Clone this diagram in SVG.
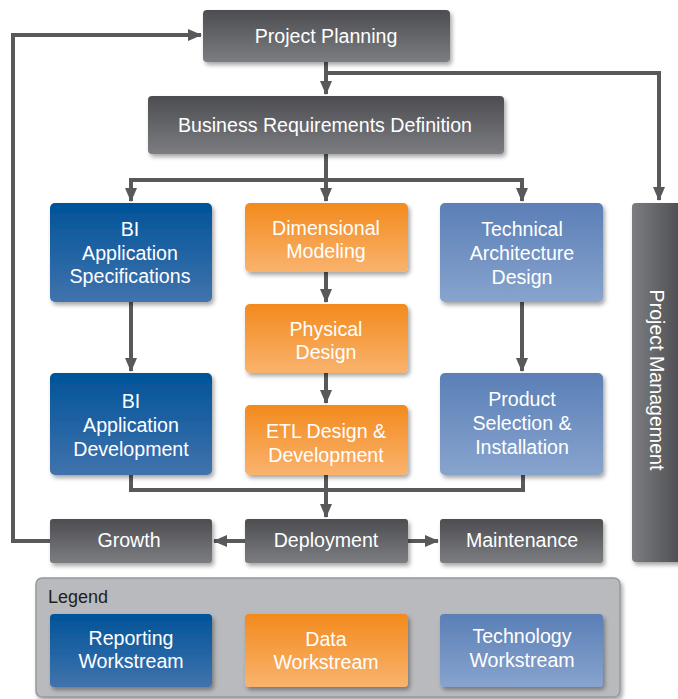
<svg xmlns="http://www.w3.org/2000/svg" width="678" height="699" viewBox="0 0 678 699">
<defs>
<linearGradient id="gGray" x1="0" y1="0" x2="0" y2="1"><stop offset="0" stop-color="#4c4d51"/><stop offset="1" stop-color="#7c7d81"/></linearGradient>
<linearGradient id="gGrayH" x1="0" y1="0" x2="1" y2="0"><stop offset="0" stop-color="#7c7d81"/><stop offset="1" stop-color="#4c4d51"/></linearGradient>
<linearGradient id="gBlue" x1="0" y1="0" x2="0" y2="1"><stop offset="0" stop-color="#005399"/><stop offset="1" stop-color="#4173ad"/></linearGradient>
<linearGradient id="gOrange" x1="0" y1="0" x2="0" y2="1"><stop offset="0" stop-color="#f38a1d"/><stop offset="1" stop-color="#f9b36e"/></linearGradient>
<linearGradient id="gLight" x1="0" y1="0" x2="0" y2="1"><stop offset="0" stop-color="#5a7fb6"/><stop offset="1" stop-color="#88a4ce"/></linearGradient>
<filter id="sh" x="-10%" y="-10%" width="130%" height="140%"><feDropShadow dx="2" dy="3" stdDeviation="2" flood-color="#000" flood-opacity="0.35"/></filter>
<marker id="ah" viewBox="0 0 14 12" refX="13" refY="6" markerWidth="14" markerHeight="12" markerUnits="userSpaceOnUse" orient="auto"><path d="M0,0 L14,6 L0,12 Z" fill="#58595b"/></marker>
<style>
.t{font-family:"Liberation Sans",Arial,sans-serif;font-size:19.6px;fill:#ffffff;text-anchor:middle}
.c{fill:none;stroke:#58595b;stroke-width:4}
.gray{fill:url(#gGray);filter:url(#sh)}
.blue{fill:url(#gBlue);filter:url(#sh)}
.orange{fill:url(#gOrange);filter:url(#sh)}
.light{fill:url(#gLight);filter:url(#sh)}
</style>
</defs>
<rect width="678" height="699" fill="#ffffff"/>

<g id="connectors">
<path class="c" d="M326,62 V94" marker-end="url(#ah)"/>
<path class="c" d="M326,73 H659 V200" marker-end="url(#ah)"/>
<path class="c" d="M326,154 V201" marker-end="url(#ah)"/>
<path class="c" d="M131,201 V180 H522 V201" marker-end="url(#ah)"/>
<path class="c" d="M131,180 V201" marker-end="url(#ah)"/>
<path class="c" d="M131,302 V371" marker-end="url(#ah)"/>
<path class="c" d="M326,272 V302" marker-end="url(#ah)"/>
<path class="c" d="M326,373 V403" marker-end="url(#ah)"/>
<path class="c" d="M522,302 V371" marker-end="url(#ah)"/>
<path class="c" d="M131,475 V490 H523 V475"/>
<path class="c" d="M326,475 V517" marker-end="url(#ah)"/>
<path class="c" d="M245,541 H214" marker-end="url(#ah)"/>
<path class="c" d="M408,541 H438" marker-end="url(#ah)"/>
<path class="c" d="M50,541 H13 V35 H201" marker-end="url(#ah)"/>
</g>

<g id="project-planning"><rect class="gray" x="203" y="10" width="247" height="52" rx="4"/><text class="t" x="326" y="43">Project Planning</text></g>
<g id="business-requirements"><rect class="gray" x="148" y="96" width="356" height="58" rx="4"/><text class="t" x="325" y="132">Business Requirements Definition</text></g>
<g id="project-management"><rect x="632" y="203" width="50" height="359" rx="4" fill="url(#gGrayH)" filter="url(#sh)"/><text class="t" transform="translate(650,380) rotate(90)" x="0" y="0">Project Management</text></g>

<g id="bi-spec"><rect class="blue" x="50" y="203" width="162" height="99" rx="5"/><text class="t" x="130" y="236">BI</text><text class="t" x="130" y="260">Application</text><text class="t" x="130" y="283">Specifications</text></g>
<g id="dim-modeling"><rect class="orange" x="245" y="203" width="163" height="69" rx="5"/><text class="t" x="326" y="235">Dimensional</text><text class="t" x="326" y="258">Modeling</text></g>
<g id="tech-arch"><rect class="light" x="440" y="203" width="163" height="99" rx="5"/><text class="t" x="522" y="236">Technical</text><text class="t" x="522" y="260">Architecture</text><text class="t" x="522" y="284">Design</text></g>
<g id="physical-design"><rect class="orange" x="245" y="304" width="163" height="69" rx="5"/><text class="t" x="326" y="336">Physical</text><text class="t" x="326" y="359">Design</text></g>
<g id="etl"><rect class="orange" x="245" y="405" width="163" height="70" rx="5"/><text class="t" x="326" y="438">ETL Design &amp;</text><text class="t" x="326" y="462">Development</text></g>
<g id="bi-dev"><rect class="blue" x="50" y="373" width="162" height="102" rx="5"/><text class="t" x="131" y="408">BI</text><text class="t" x="131" y="432">Application</text><text class="t" x="131" y="456">Development</text></g>
<g id="product-selection"><rect class="light" x="440" y="373" width="163" height="102" rx="5"/><text class="t" x="522" y="406">Product</text><text class="t" x="522" y="430">Selection &amp;</text><text class="t" x="522" y="454">Installation</text></g>

<g id="growth"><rect class="gray" x="50" y="519" width="162" height="44" rx="3"/><text class="t" x="129" y="547">Growth</text></g>
<g id="deployment"><rect class="gray" x="245" y="519" width="163" height="44" rx="3"/><text class="t" x="326" y="547">Deployment</text></g>
<g id="maintenance"><rect class="gray" x="440" y="519" width="163" height="44" rx="3"/><text class="t" x="522" y="547">Maintenance</text></g>

<g id="legend">
<rect x="36" y="578" width="584" height="119" rx="6" fill="#b9babd" stroke="#97989b" stroke-width="1.5" filter="url(#sh)"/>
<text x="48" y="603" style="font-family:'Liberation Sans',Arial,sans-serif;font-size:18px;fill:#231f20">Legend</text>
<g id="legend-reporting"><rect class="blue" x="50" y="614" width="162" height="73" rx="4"/><text class="t" x="131" y="645">Reporting</text><text class="t" x="131" y="668">Workstream</text></g>
<g id="legend-data"><rect class="orange" x="245" y="614" width="163" height="73" rx="4"/><text class="t" x="326" y="646">Data</text><text class="t" x="326" y="669">Workstream</text></g>
<g id="legend-technology"><rect class="light" x="440" y="614" width="163" height="73" rx="4"/><text class="t" x="522" y="643">Technology</text><text class="t" x="522" y="667">Workstream</text></g>
</g>
</svg>
